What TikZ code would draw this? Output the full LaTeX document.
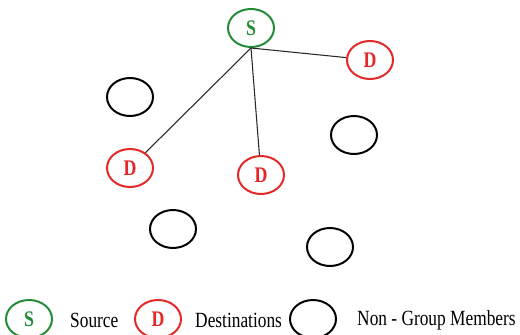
\documentclass[tikz,border=0pt]{standalone}
\usepackage{fontspec}
\setmainfont{Liberation Serif}
\newfontfamily\narrowserif[FakeStretch=0.8]{Liberation Serif}
\usetikzlibrary{shapes.geometric, positioning}
\definecolor{srcgreen}{RGB}{ 35,140, 55}
\definecolor{dstred}  {RGB}{228, 40, 40}
\begin{document}
\begin{tikzpicture}[
  x=0.03cm, y=-0.03cm,
  member/.style={ellipse, minimum width=1.38cm, minimum height=1.14cm,
    line width=1.7pt, inner sep=0pt,
    font=\narrowserif\fontsize{19}{21}\selectfont\bfseries},
  src/.style={member, draw=srcgreen, text=srcgreen},
  dst/.style={member, draw=dstred, text=dstred},
  nonmem/.style={member, draw=black},
  link/.style={line width=0.9pt, draw=black!85},
  lbl/.style={anchor=west, inner sep=0pt,
    font=\narrowserif\fontsize{18.5}{20}\selectfont},
]
\useasboundingbox (0,0) rectangle (520,335);

%% ── Group members ───────────────────────────────────────────────────────────
\node[src]    (s)   at (251,  28) {S};
\node[dst]    (d1)  at (370,  60) {D};
\node[dst]    (d2)  at (130, 168) {D};
\node[dst]    (d3)  at (261, 175) {D};

%% ── Non-group members ───────────────────────────────────────────────────────
\node[nonmem] (n1)  at (130,  97) {};
\node[nonmem] (n2)  at (354, 135) {};
\node[nonmem] (n3)  at (173, 229) {};
\node[nonmem] (n4)  at (330, 247) {};

%% ── Source tree ─────────────────────────────────────────────────────────────
\draw[link] (s.south) -- (d1);
\draw[link] (s.south) -- (d2);
\draw[link] (s.south) -- (d3);

%% ── Legend ──────────────────────────────────────────────────────────────────
\node[src]    (ls)  at ( 29, 319) {S};
\node[lbl]    (lst) at ( 70, 320) {Source};
\node[dst]    (ld)  at (158, 319) {D};
\node[lbl]    (ldt) at (195, 320) {Destinations};
\node[nonmem] (ln)  at (313, 319) {};
\node[lbl]    (lnt) at (357, 320) {Non - Group Members};

\end{tikzpicture}
\end{document}
